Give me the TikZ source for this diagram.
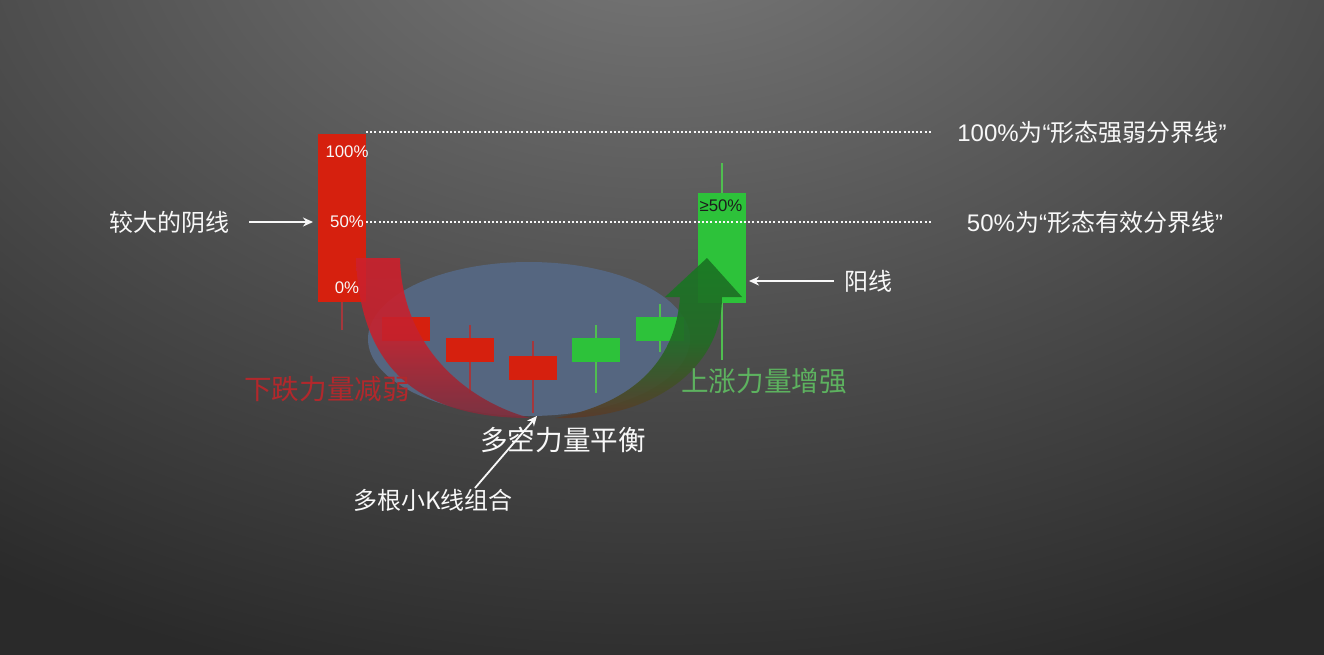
\documentclass[tikz,border=0pt]{standalone}
\usepackage{fontspec}
\setmainfont{Noto Sans CJK SC}
\newfontfamily\latinsf{Liberation Sans}
\usetikzlibrary{arrows.meta,shapes.geometric}
\definecolor{bgin}{RGB}{122,122,122}
\definecolor{bgout}{RGB}{42,42,42}
\definecolor{candred}{RGB}{214,32,14}
\definecolor{candgreen}{RGB}{45,194,58}
\definecolor{wickred}{RGB}{165,55,60}
\definecolor{wickgreen}{RGB}{80,190,80}
\definecolor{bowlblue}{RGB}{85,102,128}
\definecolor{bandredtop}{RGB}{206,32,44}
\definecolor{bandredmid}{RGB}{196,34,46}
\definecolor{bandredbot}{RGB}{125,46,60}
\definecolor{bandgreentop}{RGB}{26,118,36}
\definecolor{bandgreenmid}{RGB}{34,108,38}
\definecolor{bandgreenbot}{RGB}{92,58,42}
\definecolor{txtred}{RGB}{178,40,44}
\definecolor{txtgreen}{RGB}{93,178,95}
\definecolor{txtwhite}{RGB}{248,248,248}
\definecolor{txtdark}{RGB}{28,28,28}
\pgfdeclareradialshading{bgglow}{\pgfpoint{0bp}{0bp}}{color(0bp)=(bgin); color(12.5bp)=(bgout); color(50bp)=(bgout)}
\begin{document}
\begin{tikzpicture}[x=0.5pt,y=-0.5pt,
  body/.style={draw=none,inner sep=0pt,outer sep=0pt,minimum width=24pt},
  wick/.style={line width=0.75pt},
  pct/.style={text=txtwhite,font=\latinsf\fontsize{8.4}{10}\selectfont,inner sep=0pt},
  lbl/.style={text=txtwhite,font=\fontsize{12}{14}\selectfont,inner sep=1pt},
  big/.style={font=\fontsize{13.8}{16}\selectfont,inner sep=1pt},
  guide/.style={draw=txtwhite,line width=1pt,dash pattern=on 1pt off 1.1pt},
  pointer/.style={draw=txtwhite,line width=0.9pt,-{Stealth[length=5pt,width=4.5pt]}},
]
\useasboundingbox (0,0) rectangle (1324,654);
\begin{scope}
  \clip (0,0) rectangle (1324,654);
  \fill[bgout] (0,0) rectangle (1324,654);
  \shade[shading=bgglow] (662,-100) ellipse [x radius=1220pt, y radius=810pt];
\end{scope}

% bowl
\node[ellipse, fill=bowlblue, draw=none, inner sep=0pt, minimum width=161pt, minimum height=77pt] (bowl) at (529,339) {};

% wicks
\draw[wick, draw=wickred] (342,302) -- (342,330);
\draw[wick, draw=wickred] (470,325) -- (470,393);
\draw[wick, draw=wickred] (533,341) -- (533,413);
\draw[wick, draw=wickgreen] (596,325) -- (596,393);
\draw[wick, draw=wickgreen] (660,304) -- (660,352);
\draw[wick, draw=wickgreen] (722,163) -- (722,360);

% candle bodies
\node[body, fill=candred, minimum height=84pt] (redc) at (342,218) {};
\node[body, fill=candgreen, minimum height=55pt] (greenc) at (722,248) {};
\node[body, fill=candred, minimum height=12pt] (k1) at (406,329) {};
\node[body, fill=candred, minimum height=12pt] (k2) at (470,350) {};
\node[body, fill=candred, minimum height=12pt] (k3) at (533,368) {};
\node[body, fill=candgreen, minimum height=12pt] (k4) at (596,350) {};
\node[body, fill=candgreen, minimum height=12pt] (k5) at (660,329) {};

% curved bands
\shade[top color=bandredtop, bottom color=bandredbot, middle color=bandredmid, opacity=0.9]
  (356,258) .. controls (360,370) and (420,418) .. (530,418)
  .. controls (470,402) and (402,350) .. (400,258) -- cycle;
\shade[top color=bandgreentop, bottom color=bandgreenbot, middle color=bandgreenmid, opacity=0.93]
  (555,418) .. controls (650,420) and (722,370) .. (722,297)
  -- (742,297) -- (707,258) -- (665,297) -- (680,297)
  .. controls (676,355) and (640,402) .. (555,418) -- cycle;

% percentages
\node[pct] (p100) at (347,152) {100\%};
\node[pct] (p50) at (347,222) {50\%};
\node[pct] (p0) at (347,288) {0\%};
\node[pct, text=txtdark] (pg50) at (721,206) {≥50\%};

% labels
\node[lbl] (bigyin) at (169,222) {较大的阴线};
\node[lbl] (yang) at (868,281) {阳线};
\node[lbl] (lab100) at (1092,132) {{\latinsf 100\%}为{\latinsf “}形态强弱分界线{\latinsf ”}};
\node[lbl] (lab50) at (1095,222) {{\latinsf 50\%}为{\latinsf “}形态有效分界线{\latinsf ”}};
\node[big, text=txtred] (down) at (327,389) {下跌力量减弱};
\node[big, text=txtgreen] (up) at (764,381) {上涨力量增强};
\node[big, text=txtwhite] (balance) at (563,440) {多空力量平衡};
\node[lbl] (kgroup) at (433,500) {多根小K线组合};
\coordinate (kstart) at (475,488);
\coordinate (ktip) at (537,416);
\coordinate (g100end) at (931,132);
\coordinate (g50end) at (931,222);

% guide lines
\draw[guide] (g100end -| redc.east) -- (g100end);
\draw[guide] (g50end -| redc.east) -- (g50end);

% pointers
\draw[pointer, shorten <=9pt, shorten >=2.5pt] (bigyin.east) -- (bigyin.east -| redc.west);
\draw[pointer, shorten <=4pt, shorten >=1.5pt] (yang.west) -- (yang.west -| greenc.east);
\draw[pointer] (kstart) -- (ktip);
\end{tikzpicture}
\end{document}
